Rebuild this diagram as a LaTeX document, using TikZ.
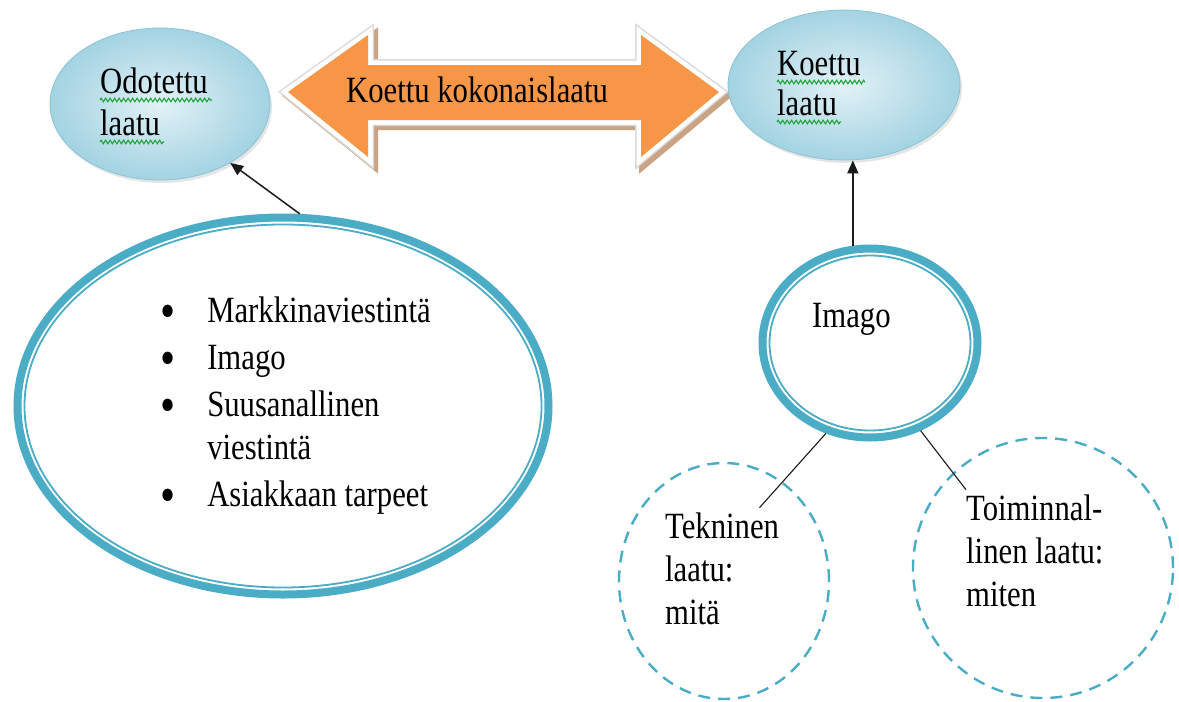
\documentclass[tikz,border=0pt]{standalone}
\usepackage{fontspec}
\setmainfont[FakeStretch=0.83]{Liberation Serif}
\usepackage{xcolor}
\usepackage{tikz}
\usetikzlibrary{arrows.meta,calc,shapes.geometric,decorations.pathmorphing,shadows}
\definecolor{kring}{HTML}{4BACC6}
\definecolor{korange}{HTML}{F79646}
\definecolor{kshadow}{HTML}{C9A384}
\definecolor{kedge}{HTML}{DADADA}
\definecolor{kbubin}{HTML}{E2F1F6}
\definecolor{kbubout}{HTML}{A3D3E2}
\definecolor{kbubedge}{HTML}{8AC4D6}
\definecolor{kwave}{HTML}{22A33A}
\definecolor{kink}{HTML}{1A1A1A}

\newcommand{\kokonaisnuoli}{(288,92) -- (368,35) -- (368,65) -- (641,65) -- (641,35) -- (719,92)
  -- (641,157) -- (641,120) -- (368,120) -- (368,157) -- cycle}
\newcommand{\isopallo}{\raisebox{-6pt}{\scalebox{1.4}{\textbullet}}}

\tikzset{
  bubble/.style={ellipse,inner sep=0pt,draw=kbubedge,line width=0.8pt,
    inner color=kbubin,outer color=kbubout,
    drop shadow={opacity=0.2,shadow xshift=2pt,shadow yshift=-3pt}},
  ring/.style={ellipse,inner sep=0pt,draw=kring,line width=8pt},
  ringinner/.style={draw=kring,line width=1.8pt},
  dashring/.style={ellipse,inner sep=0pt,draw=kring,line width=2.4pt,dash pattern=on 12pt off 8pt},
  lbl/.style={inner sep=0pt,anchor=base west},
  spellwave/.style={kwave,line width=1.1pt,decorate,decoration={zigzag,amplitude=1.8pt,segment length=4.5pt}},
  link/.style={kink,line width=1.1pt},
  pointer/.style={kink,line width=1.5pt,-{Triangle[length=13pt,width=11pt]}},
}

\begin{document}
\begin{tikzpicture}[x=1pt,y=-1pt,every node/.style={font=\fontsize{37}{43}\selectfont}]
  \fill[white] (0,0) rectangle (1179,702);
  \useasboundingbox (0,0) rectangle (1179,702);

  % kokonaislaatu arrow
  \path[fill=kshadow,draw=kshadow,line width=12pt,shift={(4,4)}] \kokonaisnuoli;
  \draw[kedge,line width=12pt] \kokonaisnuoli;
  \draw[white,line width=9pt] \kokonaisnuoli;
  \fill[korange] \kokonaisnuoli;
  \node[anchor=base] (kokonais) at (477,102) {Koettu kokonaislaatu};

  % bubbles
  \node[bubble,minimum width=220pt,minimum height=152pt] (odotettu) at (160,104) {};
  \node[lbl] (odotettu1) at (100,93) {Odotettu};
  \node[lbl] (odotettu2) at (100,135) {laatu};
  \node[bubble,minimum width=232pt,minimum height=150pt] (koettu) at (844,85) {};
  \node[lbl] (koettu1) at (777,75) {Koettu};
  \node[lbl] (koettu2) at (777,115) {laatu};
  \foreach \w in {odotettu1,odotettu2,koettu1,koettu2}
    \draw[spellwave] ([yshift=-7pt]\w.base west) -- ([xshift=4pt,yshift=-7pt]\w.base east);

  % odotukset
  \node[ring,minimum width=531pt,minimum height=377pt] (odotus) at (283,406) {};
  \draw[ringinner] (odotus.center) ellipse [x radius=258.5pt,y radius=181.5pt];
  \node[lbl] (odotuslista) at (160,322) {\begin{tabular}[t]{@{}l@{\hspace{32pt}}l@{}}
    \isopallo & Markkinaviestintä\\[4pt]
    \isopallo & Imago\\[4pt]
    \isopallo & Suusanallinen\\
              & viestintä\\[4pt]
    \isopallo & Asiakkaan tarpeet
  \end{tabular}};

  % imago
  \node[ring,minimum width=215pt,minimum height=189pt] (imago) at (870,343) {};
  \draw[ringinner] (imago.center) ellipse [x radius=100.5pt,y radius=87.5pt];
  \node[lbl] (imagoteksti) at (812,327) {Imago};

  % tekninen ja toiminnallinen
  \node[dashring,minimum width=210pt,minimum height=236pt] (tekn) at (724,581) {};
  \node[dashring,minimum width=260pt,minimum height=260pt] (toim) at (1043,568) {};
  \node[lbl] (teknteksti) at (665,538) {\begin{tabular}[t]{@{}l@{}}Tekninen\\laatu:\\mitä\end{tabular}};
  \node[lbl] (toimteksti) at (966,520) {\begin{tabular}[t]{@{}l@{}}Toiminnal-\\linen laatu:\\miten\end{tabular}};

  \draw[pointer] (odotus.85) -- (odotettu.-40);
  \draw[pointer] (imago.100) -- (imago.100 |- koettu.south);
  \draw[link] (imago.-116) -- (teknteksti.60);
  \draw[link] (imago.-60) -- (toimteksti.north west);
\end{tikzpicture}
\end{document}
